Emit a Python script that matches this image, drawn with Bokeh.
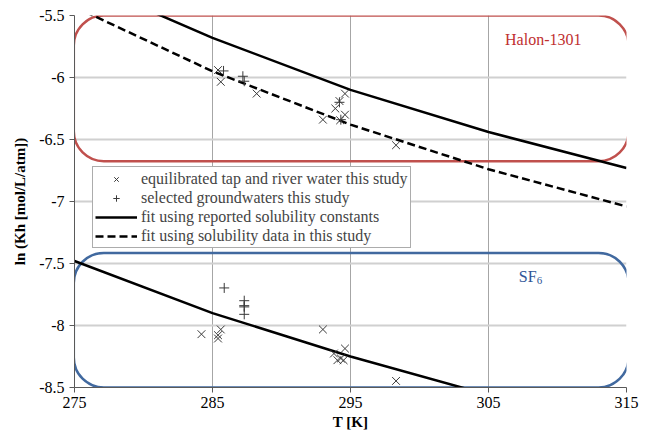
from bokeh.plotting import figure
from bokeh.models import BoxAnnotation, Legend, LegendItem, FixedTicker, NumeralTickFormatter, Range1d
from bokeh.embed import file_html
from bokeh.resources import INLINE
from bokeh.core.properties import value

# ---- data ----
fit_T = [275, 285, 295, 305, 315]
halon_fit_reported = [-5.20, -5.68, -6.10, -6.44, -6.73]
halon_fit_study = [-5.43, -5.95, -6.38, -6.74, -7.04]
sf6_fit_reported = [-7.48, -7.90, -8.25, -8.56, -8.84]

halon_eq_T = [285.4, 285.6, 288.2, 293.0, 293.9, 294.2, 294.6, 294.25, 294.6, 298.3]
halon_eq_lnK = [-5.94, -6.035, -6.13, -6.34, -6.25, -6.19, -6.13, -6.345, -6.30, -6.546]
halon_gw_T = [285.8, 287.2, 287.3, 294.2, 294.3]
halon_gw_lnK = [-5.947, -5.99, -6.03, -6.20, -6.34]

sf6_eq_T = [284.2, 285.4, 285.4, 285.6, 293.0, 293.8, 294.6, 294.3, 294.5, 294.05, 298.3]
sf6_eq_lnK = [-8.07, -8.078, -8.105, -8.032, -8.032, -8.226, -8.186, -8.266, -8.28, -8.28, -8.447]
sf6_gw_T = [285.85, 287.3, 287.3, 287.3, 287.3]
sf6_gw_lnK = [-7.697, -7.80, -7.84, -7.85, -7.91]

x_ticks = [275, 285, 295, 305, 315]
y_ticks = [-8.5, -8.0, -7.5, -7.0, -6.5, -6.0, -5.5]

legend_labels = [
    "equilibrated tap and river water this study",
    "selected groundwaters this study",
    "fit using reported solubility constants",
    "fit using solubility data in this study",
]

FONT = "Liberation Serif"
FW, FH = 552, 372

p = figure(frame_width=FW, frame_height=FH, output_backend="svg", toolbar_location=None,
           x_range=Range1d(275, 315), y_range=Range1d(-8.5, -5.5),
           min_border_left=74, min_border_right=23, min_border_top=15, min_border_bottom=49)
p.outline_line_color = None
p.background_fill_color = "white"

# grids
p.xgrid.ticker = FixedTicker(ticks=x_ticks)
p.ygrid.ticker = FixedTicker(ticks=y_ticks)
p.xgrid.grid_line_color = "#A6A6A6"
p.xgrid.grid_line_width = 1
p.ygrid.grid_line_color = "#D0D0D0"
p.ygrid.grid_line_width = 2

# axes
for ax in (p.xaxis[0], p.yaxis[0]):
    ax.axis_line_color = "#595959"
    ax.major_tick_line_color = "#595959"
    ax.minor_tick_line_color = None
    ax.major_tick_in = 0
    ax.major_tick_out = 5
    ax.major_label_text_font = FONT
    ax.major_label_text_font_size = "16px"
    ax.major_label_text_color = "black"
    ax.axis_label_text_font = FONT
    ax.axis_label_text_font_size = "15px"
    ax.axis_label_text_font_style = "bold"
    ax.axis_label_text_color = "black"
    ax.major_label_standoff = 4
p.xaxis.axis_label_standoff = 3
p.yaxis.axis_label_standoff = 8
p.yaxis.major_label_standoff = 5
p.xaxis.ticker = FixedTicker(ticks=x_ticks)
p.yaxis.ticker = FixedTicker(ticks=y_ticks)
p.yaxis.formatter = NumeralTickFormatter(format="0.[0]")
p.xaxis.axis_label = "T [K]"
p.yaxis.axis_label = "ln (Kh [mol/L/atm])"

# rounded boxes
p.add_layout(BoxAnnotation(left=274.95, right=315.15, top=-5.5, bottom=-6.675,
                           fill_color=None, fill_alpha=0, line_color="#C0504D", line_alpha=1,
                           line_width=2.5, border_radius=30, level="underlay"))
p.add_layout(BoxAnnotation(left=274.95, right=315.15, top=-7.415, bottom=-8.5,
                           fill_color=None, fill_alpha=0, line_color="#41699F", line_alpha=1,
                           line_width=2.5, border_radius=30, level="underlay"))

# fits
r_solid = p.line(fit_T, halon_fit_reported, line_color="black", line_width=2.5)
p.line(fit_T, sf6_fit_reported, line_color="black", line_width=2.5)
r_dash = p.line(fit_T, halon_fit_study, line_color="black", line_width=2.5, line_dash="8 4")

# points
r_x = p.scatter(halon_eq_T + sf6_eq_T, halon_eq_lnK + sf6_eq_lnK, marker="x", size=11,
                line_color="#3A3A3A", line_width=1)
r_p = p.scatter(halon_gw_T + sf6_gw_T, halon_gw_lnK + sf6_gw_lnK, marker="cross", size=10,
                line_color="#3A3A3A", line_width=1)

# labels
p.text(x=[306.2], y=[-5.69], text=["Halon-1301"], text_font=value(FONT), text_font_size="16px",
       text_color="#C0302F", text_baseline="middle", text_align="left")
p.text(x=[307.2], y=[-7.608], text=["SF"], text_font=value(FONT), text_font_size="16px",
       text_color="#2F5597", text_baseline="alphabetic", text_align="left")
p.text(x=[308.5], y=[-7.636], text=["6"], text_font=value(FONT), text_font_size="11px",
       text_color="#2F5597", text_baseline="alphabetic", text_align="left")

legend = Legend(items=[LegendItem(label=legend_labels[0], renderers=[r_x]),
                       LegendItem(label=legend_labels[1], renderers=[r_p]),
                       LegendItem(label=legend_labels[2], renderers=[r_solid]),
                       LegendItem(label=legend_labels[3], renderers=[r_dash])],
                location=(18, FH - 153 - 80))
legend.label_text_font = FONT
legend.label_text_font_size = "16px"
legend.label_text_line_height = 1.0
legend.label_height = 19
legend.glyph_height = 16
legend.glyph_width = 42
legend.label_standoff = 4
legend.spacing = 0
legend.padding = 2
legend.margin = 0
legend.border_line_color = "#595959"
legend.border_line_width = 1
legend.background_fill_alpha = 1
p.add_layout(legend)

open("out.html", "w").write(file_html(p, INLINE))
